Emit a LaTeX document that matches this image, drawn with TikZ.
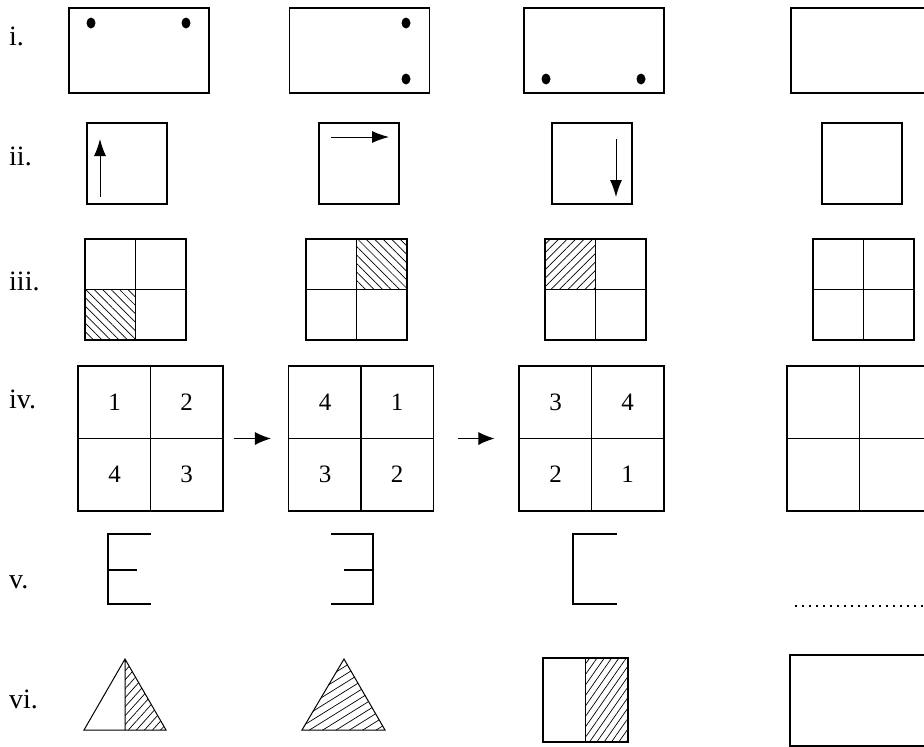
\documentclass[tikz,border=0pt]{standalone}
\usepackage{fontspec}
\setmainfont{Liberation Serif}
\usetikzlibrary{arrows.meta,positioning,patterns.meta,shapes.geometric}

\begin{document}
\begin{tikzpicture}[
  x=1pt, y=-1pt,
  frame/.style={
    rectangle,
    draw,
    line width=1.1pt,
    inner sep=0pt
  },
  wide/.style={frame, minimum width=140pt, minimum height=85pt},
  tall/.style={frame, minimum width=80pt, minimum height=81pt},
  grid/.style={frame, minimum width=101pt, minimum height=101pt},
  quad/.style={frame, minimum width=145pt, minimum height=145pt},
  lbl/.style={anchor=base west, inner sep=0pt, font=\fontsize{28}{32}\selectfont},
  num/.style={inner sep=0pt, font=\fontsize{25}{28}\selectfont},
  spot/.style={ellipse, fill, inner sep=0pt, minimum width=9pt, minimum height=11pt},
  ln/.style={line width=1.1pt},
  arr/.style={-{Latex[length=17pt,width=12pt]}, line width=1pt},
  hatchne/.style={pattern={Lines[angle=45,distance=6pt,line width=.7pt]}},
  hatchnw/.style={pattern={Lines[angle=-45,distance=6pt,line width=.7pt]}}
]
\useasboundingbox (0,0) rectangle (924,747);

% row labels
\node[lbl] (li)   at (9,45)  {i.};
\node[lbl] (lii)  at (9,165) {ii.};
\node[lbl] (liii) at (9,290) {iii.};
\node[lbl] (liv)  at (9,408) {iv.};
\node[lbl] (lv)   at (9,588) {v.};
\node[lbl] (lvi)  at (9,708) {vi.};

% row i: dots moving round
\node[wide] (b11) at (139,50.5) {};
\node[wide] (b12) at (359.5,50.5) {};
\node[wide] (b13) at (594,50.5) {};
\node[wide] (b14) at (861,50.5) {};
\node[spot] (d11) at (91,23) {};
\node[spot] (d12) at (186,23) {};
\node[spot] (d21) at (406,23) {};
\node[spot] (d22) at (406,79) {};
\node[spot] (d31) at (546,79) {};
\node[spot] (d32) at (641,79) {};

% row ii: turning arrow
\node[tall] (b21) at (127,163.5) {};
\node[tall] (b22) at (359,163.5) {};
\node[tall] (b23) at (592,163.5) {};
\node[tall] (b24) at (862,163.5) {};
\draw[arr] (100,197) -- (100,139);
\draw[arr] (331,137) -- (389,137);
\draw[arr] (616,139) -- (616,197);

% row iii: shaded quarter
\fill[hatchnw] (85,289.5) rectangle (135.5,340);
\fill[hatchnw] (356.5,239) rectangle (407,289.5);
\fill[hatchne] (545,239) rectangle (595.5,289.5);
\node[grid] (b31) at (135.5,289.5) {};
\node[grid] (b32) at (356.5,289.5) {};
\node[grid] (b33) at (595.5,289.5) {};
\node[grid] (b34) at (863.5,289.5) {};
\foreach \g in {b31,b32,b33,b34}
  \draw[ln] (\g.north) -- (\g.south) (\g.west) -- (\g.east);

% row iv: numbered squares
\node[quad] (q1) at (150.5,438.5) {};
\node[quad] (q2) at (361,438.5) {};
\node[quad] (q3) at (591.5,438.5) {};
\node[quad] (q4) at (859.5,438.5) {};
\foreach \q in {q1,q2,q3,q4}
  \draw[ln] (\q.north) -- (\q.south) (\q.west) -- (\q.east);
\node[num] (n11) at ([xshift=-36pt,yshift=36pt]q1.center) {1};
\node[num] (n12) at ([xshift=36pt,yshift=36pt]q1.center) {2};
\node[num] (n13) at ([xshift=-36pt,yshift=-36pt]q1.center) {4};
\node[num] (n14) at ([xshift=36pt,yshift=-36pt]q1.center) {3};
\node[num] (n21) at ([xshift=-36pt,yshift=36pt]q2.center) {4};
\node[num] (n22) at ([xshift=36pt,yshift=36pt]q2.center) {1};
\node[num] (n23) at ([xshift=-36pt,yshift=-36pt]q2.center) {3};
\node[num] (n24) at ([xshift=36pt,yshift=-36pt]q2.center) {2};
\node[num] (n31) at ([xshift=-36pt,yshift=36pt]q3.center) {3};
\node[num] (n32) at ([xshift=36pt,yshift=36pt]q3.center) {4};
\node[num] (n33) at ([xshift=-36pt,yshift=-36pt]q3.center) {2};
\node[num] (n34) at ([xshift=36pt,yshift=-36pt]q3.center) {1};
\draw[arr, -{Latex[length=16pt,width=13pt]}] ([xshift=10pt]q1.east) -- ([xshift=-17pt]q2.west);
\draw[arr, -{Latex[length=16pt,width=13pt]}] ([xshift=24pt]q2.east) -- ([xshift=-24pt]q3.west);

% row v: open shapes
\draw[ln] (151,534) -- (108,534) -- (108,604) -- (151,604) (108,570) -- (137,570);
\draw[ln] (331,534) -- (373,534) -- (373,604) -- (331,604) (344,570) -- (373,570);
\draw[ln] (617,534) -- (573,534) -- (573,604) -- (617,604);
\draw[line width=1.6pt, dash pattern=on 1.6pt off 5.4pt] (795,606) -- (924,606);

% row vi: halves
\fill[pattern={Lines[angle=48,distance=6pt,line width=.7pt]}] (125,659) -- (166,730) -- (125,730) -- cycle;
\draw[line width=1pt] (84,730) -- (125,659) -- (166,730) -- cycle (125,659) -- (125,730);
\begin{scope}
  \clip (302,730) -- (344,659) -- (385,730) -- cycle;
  \foreach \c in {-64,-55.7,...,80}
    \draw[line width=.7pt] (300,730-\c) -- (390,674-\c);
\end{scope}
\draw[line width=1pt] (302,730) -- (344,659) -- (385,730) -- cycle;
\fill[pattern={Lines[angle=55,distance=6pt,line width=.7pt]}] (586,658) rectangle (628,742);
\node[frame, minimum width=85pt, minimum height=84pt] (r3) at (585.5,700) {};
\draw[ln] (r3.north) -- (r3.south);
\node[frame, minimum width=140pt, minimum height=91pt] (r4) at (860,700.5) {};
\end{tikzpicture}
\end{document}
